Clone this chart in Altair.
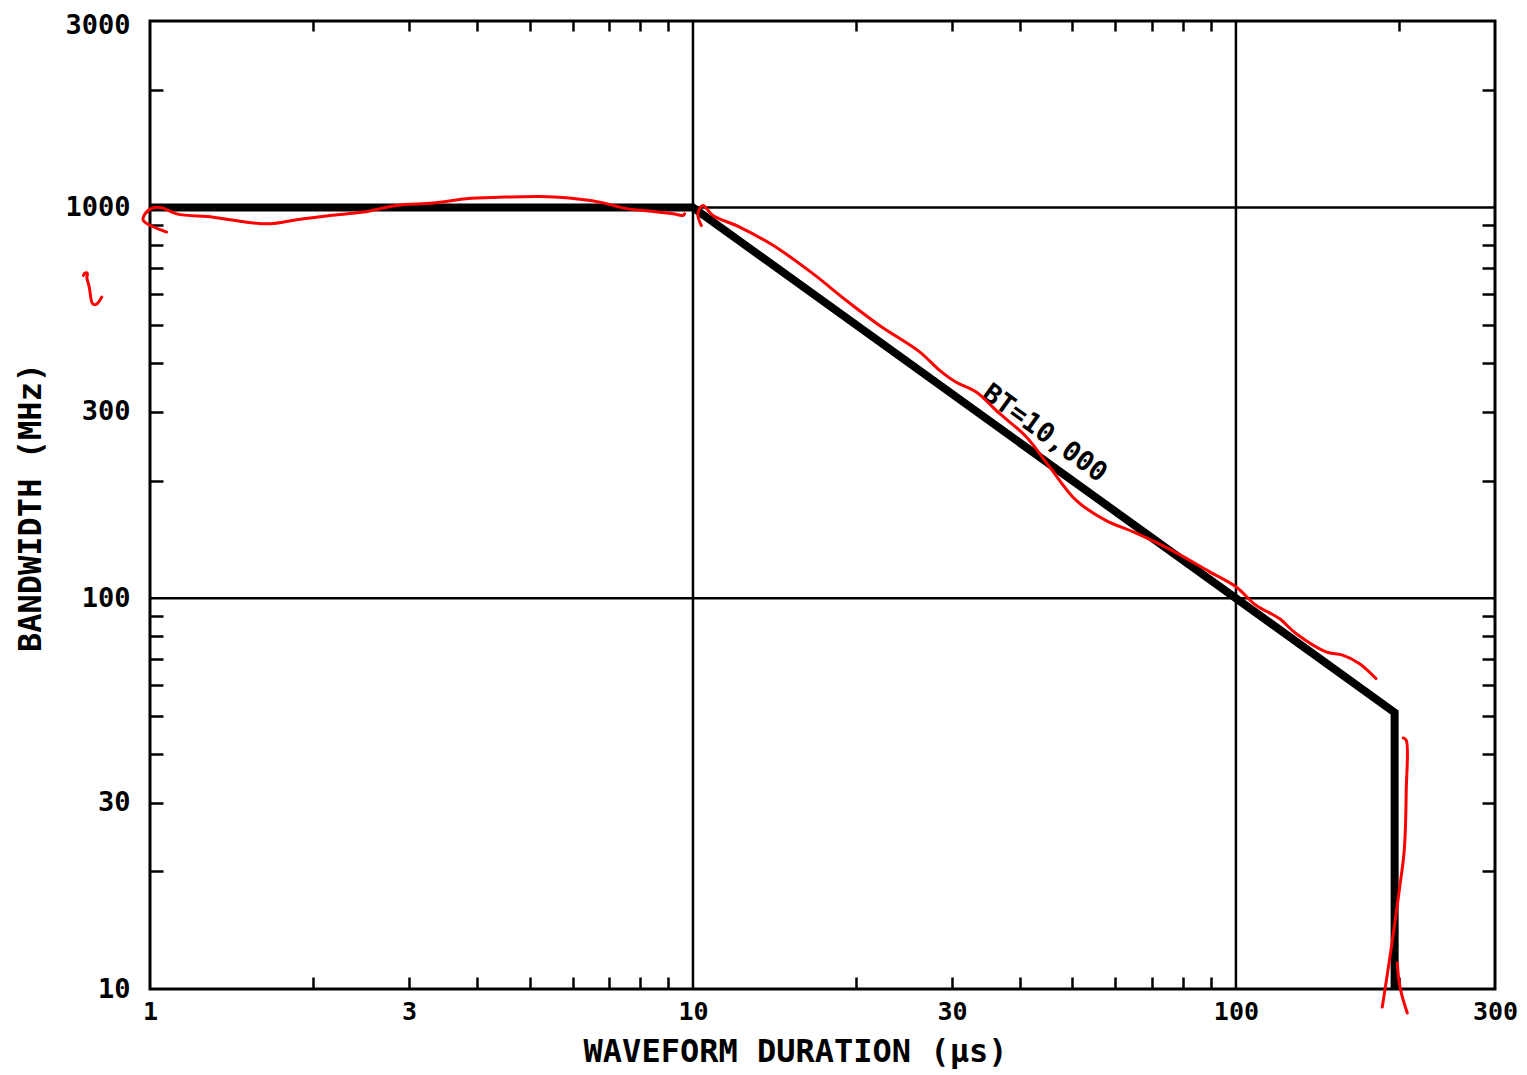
import altair as alt
import pandas as pd

# ---------------- data ----------------
black_x = [1, 10, 196, 196]
black_y = [1000, 1000, 51, 10]

grid_x = [10, 100]
grid_y = [100, 1000]

x_label_values = [1, 3, 10, 30, 100, 300]
y_label_values = [10, 30, 100, 300, 1000, 3000]
x_minor_ticks = [2, 3, 4, 5, 6, 7, 8, 9, 20, 30, 40, 50, 60, 70, 80, 90, 200]
y_minor_ticks = [20, 30, 40, 50, 60, 70, 80, 90, 200, 300, 400, 500, 600, 700, 800, 900, 2000]

bt_label_x = [44.4]
bt_label_y = [264]
bt_label_text = ["BT=10,000"]

red1_x = [1.073, 0.972, 0.979, 1.014, 1.051, 1.120, 1.308, 1.507, 1.663, 1.862, 2.145, 2.47,
          2.845, 3.322, 3.827, 4.41, 5.22, 5.85, 6.73, 7.54, 8.32, 9.19, 9.58, 9.65]
red1_y = [865, 926, 963, 998, 998, 963, 944, 917, 908, 930, 954, 973,
          1012, 1026, 1053, 1062, 1067, 1059, 1032, 993, 979, 963, 954, 963]

red2_x = [10.36, 10.21, 10.43, 10.88, 12.19, 14.04, 16.63, 19.16, 22.06, 26.15, 28.46, 30.54,
          33.24, 36.69, 41.08, 45.36, 50.79, 57.67, 64.55, 74.35, 79.8, 89.3, 100, 108.9,
          120.2, 129, 146.5, 157.2, 168.7, 181.1]
red2_y = [899, 963, 1012, 954, 891, 800, 677, 578, 499, 427, 383, 357,
          337, 297, 259, 217, 178, 158, 148, 135, 128, 117, 107, 95.9,
          88.7, 81.2, 72.9, 71.5, 68.1, 62.3]

red3_x = [203.3, 205.9, 205.9, 204.2, 199.9, 194.1, 190, 186]
red3_y = [43.9, 43.3, 32.3, 22.7, 17.9, 13.3, 10.9, 8.99]

red4_x = [198.2, 199.9, 202.5, 206.8]
red4_y = [11.66, 10.36, 9.54, 8.68]

red5_x = [0.754, 0.759, 0.767, 0.765, 0.773, 0.784, 0.796, 0.815]
red5_y = [670, 679, 677, 663, 625, 567, 565, 590]

# ---------------- tables ----------------
black_df = pd.DataFrame({"x": black_x, "y": black_y, "o": range(len(black_x))})
gx_df = pd.DataFrame({"gx": grid_x})
gy_df = pd.DataFrame({"gy": grid_y})
lab_df = pd.DataFrame({"x": bt_label_x, "y": bt_label_y, "t": bt_label_text})

rows = []
for sid, (xs, ys) in enumerate([(red1_x, red1_y), (red2_x, red2_y), (red3_x, red3_y),
                                (red4_x, red4_y), (red5_x, red5_y)]):
    for i, (a, b) in enumerate(zip(xs, ys)):
        rows.append({"x": a, "y": b, "s": sid, "o": i})
red_df = pd.DataFrame(rows)

W, H = 1345, 968
FONT = "DejaVu Sans Mono"

xscale = alt.Scale(type="log", domain=[1, 300], nice=False)
yscale = alt.Scale(type="log", domain=[10, 3000], nice=False)


def tick_axis(orient, offset, values, size):
    return alt.Axis(orient=orient, offset=offset, values=values, tickSize=size,
                    tickWidth=2.5, tickColor="black", labels=False, domain=False,
                    grid=False, title=None)


main_x_axis = alt.Axis(orient="bottom", values=x_label_values, format="d",
                       labelFont=FONT, labelFontSize=25, labelFontWeight="bold",
                       labelColor="black", labelPadding=10, labelFlush=False,
                       labelOverlap=False, ticks=False, domain=False, grid=False,
                       title="WAVEFORM DURATION (μs)", titleFont=FONT, titleFontSize=32,
                       titleFontWeight="bold", titleColor="black", titleX=645, titleY=72,
                       titleAlign="center", titleBaseline="alphabetic")
main_y_axis = alt.Axis(orient="left", values=y_label_values, format="d",
                       labelFont=FONT, labelFontSize=27, labelFontWeight="bold",
                       labelColor="black", labelPadding=20, labelFlush=False,
                       labelOverlap=False, ticks=False, domain=False, grid=False,
                       labelOffset=alt.condition("datum.value >= 3000", alt.value(4), alt.value(0)),
                       title="BANDWIDTH (MHz)", titleFont=FONT, titleFontSize=32,
                       titleFontWeight="bold", titleColor="black", titleX=-120, titleY=486,
                       titleAngle=270, titleAlign="center", titleBaseline="middle")

grid_v = alt.Chart(gx_df).mark_rule(color="black", strokeWidth=2.5).encode(
    x=alt.X("gx:Q", scale=xscale, axis=tick_axis("top", -H, x_minor_ticks, 12))
)
grid_h = alt.Chart(gy_df).mark_rule(color="black", strokeWidth=2.5).encode(
    y=alt.Y("gy:Q", scale=yscale, axis=tick_axis("right", -W, y_minor_ticks, 13))
)
black = alt.Chart(black_df).mark_line(color="black", strokeWidth=8, strokeJoin="miter",
                                      clip=False).encode(
    x=alt.X("x:Q", scale=xscale, axis=main_x_axis),
    y=alt.Y("y:Q", scale=yscale, axis=main_y_axis),
    order="o:Q",
)
label = alt.Chart(lab_df).mark_text(font=FONT, fontSize=27, fontWeight="bold", angle=36,
                                    align="center", baseline="middle", color="black").encode(
    x=alt.X("x:Q", scale=xscale, axis=tick_axis("bottom", -H, x_minor_ticks, 10)),
    y=alt.Y("y:Q", scale=yscale, axis=tick_axis("left", -W, y_minor_ticks, 13)),
    text="t:N",
)
red = alt.Chart(red_df).mark_line(color="#ff0000", strokeWidth=3, clip=False,
                                  interpolate="catmull-rom", strokeCap="round").encode(
    x=alt.X("x:Q", scale=xscale, axis=None),
    y=alt.Y("y:Q", scale=yscale, axis=None),
    detail="s:N",
    order="o:Q",
)

chart = alt.layer(grid_v, grid_h, black, label, red).resolve_axis(
    x="independent", y="independent"
).properties(
    width=W, height=H,
    autosize=alt.AutoSizeParams(type="none"),
    padding={"left": 142, "top": 13, "right": 24, "bottom": 86},
    background="white",
).configure_view(stroke="black", strokeWidth=3)

chart.save("out.html", embed_options={"renderer": "svg", "actions": False})
